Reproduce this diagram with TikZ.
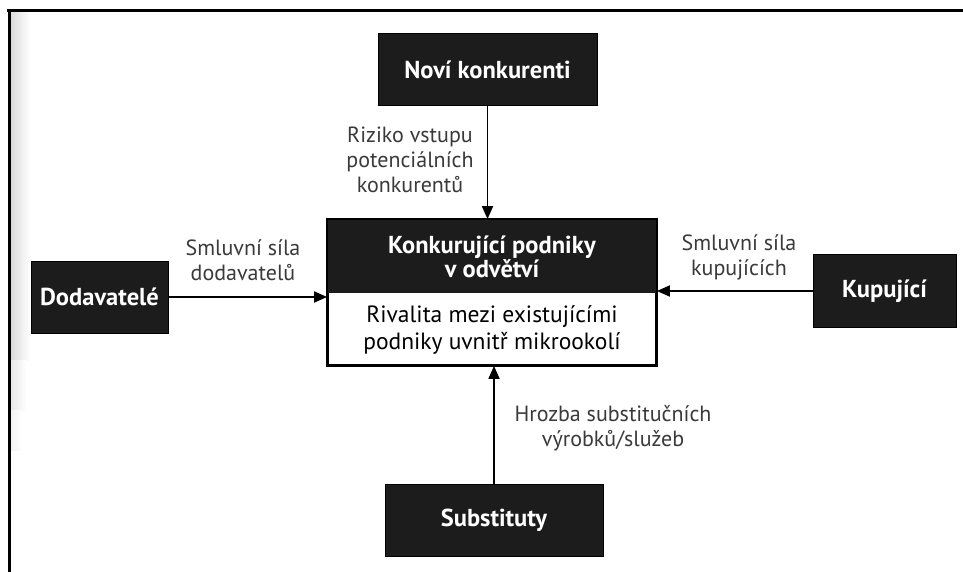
\documentclass[tikz,border=0pt]{standalone}
\usepackage{fontspec}
\setmainfont{PT Sans}
\usetikzlibrary{arrows.meta}
\definecolor{boxdark}{HTML}{1C1C1C}
\definecolor{labelgray}{HTML}{3A3A3A}
\begin{document}
\begin{tikzpicture}[x=1pt,y=-1pt,
  forcebox/.style={rectangle, fill=boxdark, draw=black, line width=1pt,
    text=white, font=\fontsize{24.5}{24}\selectfont\bfseries, align=center,
    inner sep=0pt},
  rivalbox/.style={rectangle, fill=white, draw=black, line width=1.8pt,
    align=center, inner sep=0pt},
  forcelabel/.style={font=\fontsize{22}{25}\selectfont, text=labelgray,
    align=center, inner sep=0pt},
  force/.style={line width=1.8pt, -{Triangle[length=13pt,width=11pt]}}]
\useasboundingbox (0,0) rectangle (963,572);
\fill[white] (0,0) rectangle (963,572);
% grainy edge of the scanned page, fading out downwards
\shade[left color=black!14, right color=white] (11,12) rectangle (30,360);
\shade[left color=black!9, right color=white] (11,360) rectangle (26,410);
\shade[left color=black!5, right color=white] (11,410) rectangle (22,450);
% page frame
\draw[line width=3pt] (7,11) -- (963,11);
\draw[line width=3pt] (9,11) -- (9,572);

% the five forces
\node[forcebox, minimum width=219pt, minimum height=72pt] (nk) at (487.5,70) {Noví konkurenti};
\node[rivalbox, minimum width=328pt, minimum height=145pt] (core) at (492,292.5) {};
\node[forcebox, minimum width=328pt, minimum height=73pt, draw=none]
  (ctop) at (492,256.5) {Konkurující podniky\\v odvětví};
\node[font=\fontsize{23.5}{27}\selectfont, align=center, inner sep=0pt]
  (cbot) at (492,330) {Rivalita mezi existujícími\\podniky uvnitř mikrookolí};
\draw[line width=1.8pt] (core.north west) rectangle (core.south east);
\node[forcebox, minimum width=137pt, minimum height=72pt] (dod) at (99.5,297) {Dodavatelé};
\node[forcebox, minimum width=143pt, minimum height=73pt] (kup) at (884.5,291) {Kupující};
\node[forcebox, minimum width=218pt, minimum height=72pt] (sub) at (494,520) {Substituty};

% connectors
\draw[force] (nk.south) -- (nk.south |- core.north);
\draw[force] (dod.east) -- (dod.east -| core.west);
\draw[force] (kup.west) -- (kup.west -| core.east);
\draw[force] (sub.north) -- (sub.north |- core.south);

% connector labels
\node[forcelabel] (l1) at (410,160) {Riziko vstupu\\potenciálních\\konkurentů};
\node[forcelabel] (l2) at (243,260) {Smluvní síla\\dodavatelů};
\node[forcelabel] (l3) at (739,257) {Smluvní síla\\kupujících};
\node[forcelabel] (l4) at (613,428) {Hrozba substitučních\\výrobků/služeb};
\end{tikzpicture}
\end{document}
